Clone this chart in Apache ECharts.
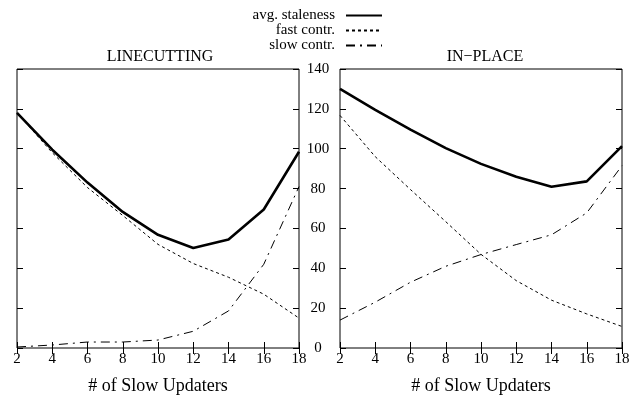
<!DOCTYPE html>
<html>
<head>
<meta charset="utf-8">
<script src="https://cdn.jsdelivr.net/npm/echarts@6/dist/echarts.min.js"></script>
<style>
  html, body { margin: 0; padding: 0; background: #fff; }
  #chart { width: 642px; height: 400px; }
</style>
</head>
<body>
<div id="chart"></div>
<script>
// x = number of slow updaters
var updaters = [2, 4, 6, 8, 10, 12, 14, 16, 18];
var yTicks = [0, 20, 40, 60, 80, 100, 120, 140];

// LINECUTTING
var lcAvg  = [118, 99.5, 83, 68.3, 56.8, 50.2, 54.5, 69.5, 98.5];
var lcFast = [118, 98, 80.5, 66.5, 52, 42.4, 35.5, 27, 15];
var lcSlow = [0.5, 1.5, 3, 3, 4, 8.4, 18.6, 42, 81];

// IN-PLACE
var ipAvg  = [130, 119.5, 109.6, 100.3, 92.4, 85.9, 80.9, 83.6, 101.3];
var ipFast = [116.7, 96, 79.5, 63.4, 47, 33.8, 24, 17.1, 10.8];
var ipSlow = [14, 23, 33, 41, 46.9, 51.9, 56.8, 67.8, 91.5];

function pairs(ys) {
    return updaters.map(function (x, i) { return [x, ys[i]]; });
}

var serif = '"Liberation Serif", "DejaVu Serif", serif';
var tick = { show: true, inside: true, length: 6, lineStyle: { color: '#000', width: 1 } };

function xAx(gi, pos, showLabel) {
    return {
        type: 'value', gridIndex: gi, position: pos,
        min: 2, max: 18, interval: 2,
        axisLine: { show: false },
        axisTick: tick,
        splitLine: { show: false },
        axisLabel: { show: showLabel, color: '#000', fontFamily: serif, fontSize: 15, margin: 4 },
        name: showLabel ? '# of Slow Updaters' : '',
        nameLocation: 'middle', nameGap: 29,
        nameTextStyle: { color: '#000', fontFamily: serif, fontSize: 18 }
    };
}
function yAx(gi, pos, showLabel) {
    return {
        type: 'value', gridIndex: gi, position: pos,
        min: 0, max: 140, interval: 20,
        axisLine: { show: false },
        axisTick: tick,
        splitLine: { show: false },
        axisLabel: { show: showLabel, color: '#000', fontFamily: serif, fontSize: 15, align: 'center', margin: 19 }
    };
}

var avgStyle  = { color: '#000', width: 2.6, type: 'solid' };
var fastStyle = { color: '#000', width: 1, type: [3, 3] };
var slowStyle = { color: '#000', width: 1, type: [9, 5, 2, 5] };

function line(name, gi, xi, yi, ys, style, z) {
    return {
        name: name, type: 'line', xAxisIndex: xi, yAxisIndex: yi,
        data: pairs(ys), showSymbol: false, symbol: 'none',
        lineStyle: style, itemStyle: { color: '#000' }, z: z, animation: false
    };
}

var chart = echarts.init(document.getElementById('chart'));
chart.setOption({
    backgroundColor: '#fff',
    animation: false,
    title: [
        { text: 'LINECUTTING', left: 155, top: 44, textAlign: 'center',
          textStyle: { fontFamily: serif, fontSize: 16, fontWeight: 'normal', color: '#000' } },
        { text: 'IN\u2212PLACE', left: 480, top: 44, textAlign: 'center',
          textStyle: { fontFamily: serif, fontSize: 16, fontWeight: 'normal', color: '#000' } }
    ],
    legend: {
        orient: 'vertical', right: 259, top: 8, align: 'right', padding: 0,
        itemWidth: 36, itemHeight: 10, itemGap: 0,
        itemStyle: { opacity: 0 },
        textStyle: { fontFamily: serif, fontSize: 15, lineHeight: 14, color: '#000', padding: [0, 6, 0, 0] },
        data: ['avg. staleness', 'fast contr.', 'slow contr.']
    },
    grid: [
        { left: 17, top: 69, width: 282, height: 282, show: true, borderColor: '#000', borderWidth: 1 },
        { left: 340, top: 69, width: 282, height: 282, show: true, borderColor: '#000', borderWidth: 1 }
    ],
    xAxis: [
        xAx(0, 'bottom', true), xAx(0, 'top', false),
        xAx(1, 'bottom', true), xAx(1, 'top', false)
    ],
    yAxis: [
        yAx(0, 'right', true), yAx(0, 'left', false),
        yAx(1, 'left', false), yAx(1, 'right', false)
    ],
    series: [
        line('avg. staleness', 0, 0, 0, lcAvg, avgStyle, 5),
        line('fast contr.', 0, 0, 0, lcFast, fastStyle, 4),
        line('slow contr.', 0, 0, 0, lcSlow, slowStyle, 3),
        line('avg. staleness', 1, 2, 2, ipAvg, avgStyle, 5),
        line('fast contr.', 1, 2, 2, ipFast, fastStyle, 4),
        line('slow contr.', 1, 2, 2, ipSlow, slowStyle, 3)
    ]
});
</script>
</body>
</html>
